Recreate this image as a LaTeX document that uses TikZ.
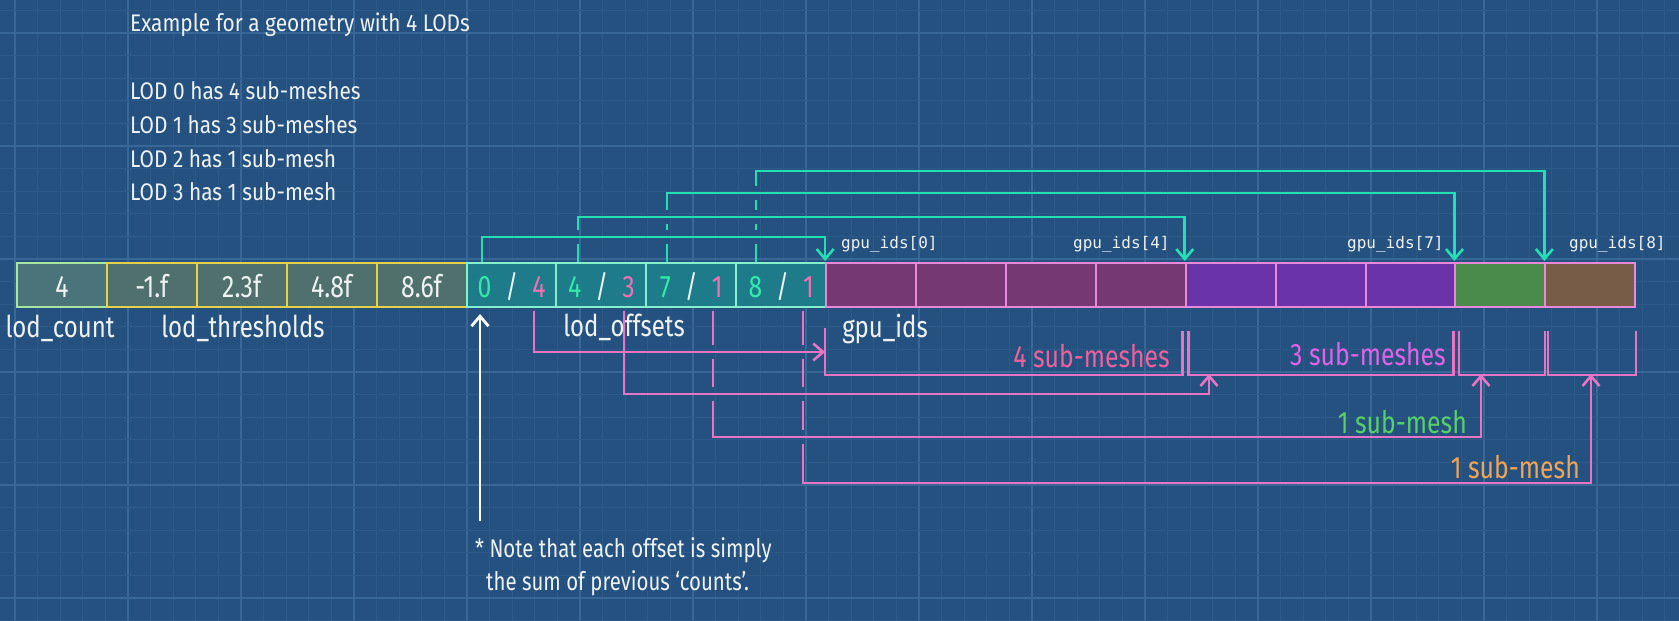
\documentclass[tikz,border=0pt]{standalone}
\usepackage{fontspec}
\setmainfont{Fira Sans}[FakeStretch=0.87]
\newfontfamily\condf{Fira Sans}[FakeStretch=0.8]
\newfontfamily\monof{DejaVu Sans Mono}
\usetikzlibrary{arrows.meta,calc}
\definecolor{bg}{HTML}{24517F}
\definecolor{gridmin}{HTML}{2C5986}
\definecolor{gridmaj}{HTML}{3A6896}
\definecolor{txt}{HTML}{EEF2F2}
\definecolor{cyl}{HTML}{22E0B2}
\definecolor{pkl}{HTML}{E874C6}
\definecolor{cyv}{HTML}{34EAAA}
\definecolor{pkv}{HTML}{F070B4}
\definecolor{cntfill}{HTML}{4A7479}
\definecolor{cntdraw}{HTML}{A6E6A0}
\definecolor{thfill}{HTML}{50706E}
\definecolor{thdraw}{HTML}{E6D24A}
\definecolor{offill}{HTML}{1E7B8A}
\definecolor{ofdraw}{HTML}{86F0CC}
\definecolor{gdraw}{HTML}{E888D8}
\definecolor{gA}{HTML}{763872}
\definecolor{gB}{HTML}{6B33A8}
\definecolor{gC}{HTML}{4A8A4A}
\definecolor{gD}{HTML}{775C48}
\definecolor{t4}{HTML}{F0609C}
\definecolor{t3}{HTML}{E062E6}
\definecolor{t1g}{HTML}{58D068}
\definecolor{t1o}{HTML}{F0A458}
\tikzset{
  cellbase/.style={minimum width=89.9pt,minimum height=44pt,inner sep=0pt,line width=2pt,
    text height=24pt,text depth=0pt,text=txt,font=\condf\fontsize{31}{32}\selectfont},
  cntcell/.style={cellbase,fill=cntfill,draw=cntdraw},
  thcell/.style={cellbase,fill=thfill,draw=thdraw},
  ofcell/.style={cellbase,fill=offill,draw=ofdraw},
  gcell/.style={cellbase,draw=gdraw,fill=#1},
  bigtxt/.style={font=\condf\fontsize{30}{32}\selectfont,text=txt,inner sep=0pt},
  toptxt/.style={font=\fontsize{24}{26}\selectfont,text=txt,inner sep=0pt,anchor=base west},
  monotxt/.style={font=\monof\fontsize{16}{18}\selectfont,text=txt,inner sep=0pt,anchor=base west},
  subtxt/.style={font=\condf\fontsize{31}{32}\selectfont,inner sep=0pt,anchor=base east,text=#1},
  notetxt/.style={font=\condf\fontsize{25.5}{27}\selectfont,text=txt,inner sep=0pt,anchor=base west},
  cy/.style={draw=cyl,line width=2.6pt},
  pk/.style={draw=pkl,line width=2.6pt},
  barb/.style={-{Straight Barb[length=10pt,width=17pt]}},
}
\begin{document}
\begin{tikzpicture}[x=1pt,y=-1pt]
\useasboundingbox (0,0) rectangle (1679,621);
\fill[bg] (0,0) rectangle (1679,621);
\begin{scope}
\clip (0,0) rectangle (1679,621);
\foreach \i in {0,...,74} {
  \pgfmathtruncatemacro{\m}{mod(\i,5)}
  \ifnum\m=0
    \draw[gridmaj,line width=1.6pt] ({15+22.6*\i},0) -- ({15+22.6*\i},621);
  \else
    \draw[gridmin,line width=1pt] ({15+22.6*\i},0) -- ({15+22.6*\i},621);
  \fi
}
\foreach \j in {0,...,27} {
  \pgfmathtruncatemacro{\m}{mod(\j,5)}
  \ifnum\m=1
    \draw[gridmaj,line width=1.6pt] (0,{10.4+22.6*\j}) -- (1679,{10.4+22.6*\j});
  \else
    \draw[gridmin,line width=1pt] (0,{10.4+22.6*\j}) -- (1679,{10.4+22.6*\j});
  \fi
}
\end{scope}

% top-left text
\node[toptxt] (ex) at (130,31) {Example for a geometry with 4 LODs};
\node[toptxt] (l0) at (130,99) {LOD 0 has 4 sub-meshes};
\node[toptxt] (l1) at (130,133) {LOD 1 has 3 sub-meshes};
\node[toptxt] (l2) at (130,167) {LOD 2 has 1 sub-mesh};
\node[toptxt] (l3) at (130,200) {LOD 3 has 1 sub-mesh};

% cells
\node[cntcell] (cnt) at (62,285) {4};
\node[thcell] (th1) at (151.9,285) {-1.f};
\node[thcell] (th2) at (241.8,285) {2.3f};
\node[thcell] (th3) at (331.7,285) {4.8f};
\node[thcell] (th4) at (421.6,285) {8.6f};
\node[ofcell] (o1) at (511.5,285) {{\color{cyv}0}\hspace{14pt}/\hspace{14pt}{\color{pkv}4}};
\node[ofcell] (o2) at (601.4,285) {{\color{cyv}4}\hspace{14pt}/\hspace{14pt}{\color{pkv}3}};
\node[ofcell] (o3) at (691.3,285) {{\color{cyv}7}\hspace{14pt}/\hspace{14pt}{\color{pkv}1}};
\node[ofcell] (o4) at (781.2,285) {{\color{cyv}8}\hspace{14pt}/\hspace{14pt}{\color{pkv}1}};
\node[gcell=gA] (g1) at (871.1,285) {};
\node[gcell=gA] (g2) at (961.0,285) {};
\node[gcell=gA] (g3) at (1050.9,285) {};
\node[gcell=gA] (g4) at (1140.8,285) {};
\node[gcell=gB] (g5) at (1230.7,285) {};
\node[gcell=gB] (g6) at (1320.6,285) {};
\node[gcell=gB] (g7) at (1410.5,285) {};
\node[gcell=gC] (g8) at (1500.4,285) {};
\node[gcell=gD] (g9) at (1590.3,285) {};

% labels
\node[bigtxt,anchor=base] (lc) at (60,337) {lod\_count};
\node[bigtxt,anchor=base] (lt) at (243,337) {lod\_thresholds};
\node[bigtxt,anchor=base] (lo) at (624,336) {lod\_offsets};
\node[bigtxt,anchor=base] (lg) at (885,337) {gpu\_ids};
\node[monotxt] (m0) at (841,248) {gpu\_ids[0]};
\node[monotxt] (m4) at (1073,248) {gpu\_ids[4]};
\node[monotxt] (m7) at (1347,248) {gpu\_ids[7]};
\node[monotxt] (m8) at (1569,248) {gpu\_ids[8]};

% levels
\coordinate (L1) at (0,237);
\coordinate (L2) at (0,217);
\coordinate (L3) at (0,193);
\coordinate (L4) at (0,171);
\coordinate (P1) at (0,352);
\coordinate (P2) at (0,394);
\coordinate (P3) at (0,437);
\coordinate (P4) at (0,483);
\coordinate (s1) at ($(o1.north)+(-29.5,0)$);
\coordinate (s2) at ($(o2.north)+(-23.4,0)$);
\coordinate (s3) at ($(o3.north)+(-24.3,0)$);
\coordinate (s4) at ($(o4.north)+(-25.2,0)$);
\coordinate (t1) at ($(o1.south)+(22.5,3)$);
\coordinate (t2) at ($(o2.south)+(22.6,3)$);
\coordinate (t3) at ($(o3.south)+(21.7,3)$);
\coordinate (t4) at ($(o4.south)+(21.8,3)$);

% cyan arrows
\draw[cy,barb,shorten >=1pt] (s1) -- (s1 |- L1) -| (g1.north west);
\draw[cy] (s2) -- ($(s2 |- L1)+(0,7)$);
\draw[cy,barb,shorten >=1pt] ($(s2 |- L1)+(0,-7)$) -- (s2 |- L2) -| (g5.north west);
\draw[cy] (s3) -- ($(s3 |- L1)+(0,7)$);
\draw[cy] ($(s3 |- L1)+(0,-7)$) -- ($(s3 |- L2)+(0,7)$);
\draw[cy,barb,shorten >=1pt] ($(s3 |- L2)+(0,-7)$) -- (s3 |- L3) -| (g8.north west);
\draw[cy] (s4) -- ($(s4 |- L1)+(0,7)$);
\draw[cy] ($(s4 |- L1)+(0,-7)$) -- ($(s4 |- L2)+(0,7)$);
\draw[cy] ($(s4 |- L2)+(0,-7)$) -- ($(s4 |- L3)+(0,7)$);
\draw[cy,barb,shorten >=1pt] ($(s4 |- L3)+(0,-7)$) -- (s4 |- L4) -| (g9.north west);

% brackets
\coordinate (u2) at (1209,374);
\coordinate (u3) at (1481,374);
\coordinate (u4) at (1591,374);
\draw[pk] ($(g1.south west)+(0,20)$) -- ($(g1.south west)+(0,67)$) -- ($(g4.south east)+(-4,67)$) -- ($(g4.south east)+(-4,23)$);
\draw[pk] ($(g5.south west)+(3.5,23)$) -- ($(g5.south west)+(3.5,67)$) -- ($(g7.south east)+(-3,67)$) -- ($(g7.south east)+(-3,23)$);
\draw[pk] ($(g8.south west)+(4.5,23)$) -- ($(g8.south west)+(4.5,67)$) -- ($(g8.south east)+(-1.3,67)$) -- ($(g8.south east)+(-1.3,23)$);
\draw[pk] ($(g9.south west)+(3.7,23)$) -- ($(g9.south west)+(3.7,67)$) -- ($(g9.south east)+(-0.2,67)$) -- ($(g9.south east)+(-0.2,23)$);

% pink arrows
\draw[pk,barb] (t1) -- (t1 |- P1) -- (g1.west |- P1);
\draw[pk,barb] (t2) -- (t2 |- P2) -| (u2);
\draw[pk] (t3) -- ($(t3 |- P1)+(0,-7)$);
\draw[pk] ($(t3 |- P1)+(0,7)$) -- ($(t3 |- P2)+(0,-7)$);
\draw[pk,barb] ($(t3 |- P2)+(0,7)$) -- (t3 |- P3) -| (u3);
\draw[pk] (t4) -- ($(t4 |- P1)+(0,-7)$);
\draw[pk] ($(t4 |- P1)+(0,7)$) -- ($(t4 |- P2)+(0,-7)$);
\draw[pk] ($(t4 |- P2)+(0,7)$) -- ($(t4 |- P3)+(0,-7)$);
\draw[pk,barb] ($(t4 |- P3)+(0,7)$) -- (t4 |- P4) -| (u4);

% sub-mesh labels
\node[subtxt=t4] (sm4) at (1170,367) {4 sub-meshes};
\node[subtxt=t3] (sm3) at (1446,365) {3 sub-meshes};
\node[subtxt=t1g] (sm1g) at (1467,433) {1 sub-mesh};
\node[subtxt=t1o] (sm1o) at (1580,478) {1 sub-mesh};

% note
\coordinate (wb) at (480,521);
\draw[draw=white,line width=2.8pt,barb] (wb) -- ($(o1.south)+(-31.5,6)$);
\node[notetxt] (n1) at (475,557) {* Note that each offset is simply};
\node[notetxt] (n2) at (486,590) {the sum of previous ‘counts’.};
\end{tikzpicture}
\end{document}
